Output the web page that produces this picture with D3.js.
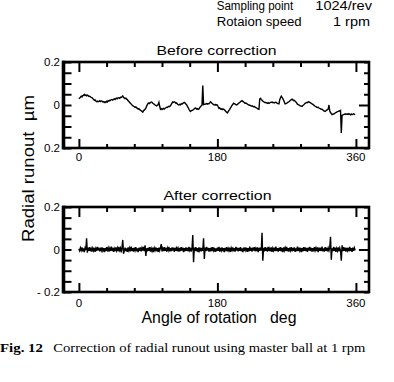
<!DOCTYPE html>
<html><head><meta charset="utf-8">
<script src="https://cdn.jsdelivr.net/npm/d3@7"></script>
<style>body{margin:0;background:#fff}svg{display:block}text{white-space:pre}</style>
</head><body>
<script>
// Radial runout (µm) sampled every 1 degree, 0..359
const beforeValues = [
 .029,.033,.036,.041,.038,.044,.045,.049,.044,.047,
 .043,.046,.044,.040,.041,.038,.035,.034,.030,.027,
 .022,.024,.019,.016,.018,.015,.017,.020,.016,.019,
 .018,.014,.016,.012,.015,.012,.017,.014,.020,.018,
 .022,.021,.025,.025,.023,.027,.029,.026,.030,.032,
 .029,.033,.034,.031,.036,.035,.038,.042,.036,.033,
 .030,.032,.027,.025,.020,.016,.012,.008,.004,.000,
 -.003,-.006,-.008,-.011,-.009,-.014,-.015,-.019,-.017,-.022,
 -.024,-.027,-.030,-.033,-.026,-.024,-.020,-.015,-.005,.002,
 .008,.010,.007,.012,.014,.012,.008,.006,.003,.000,
 -.002,-.004,-.001,.002,.012,-.006,-.020,-.017,-.021,-.018,
 -.016,-.019,-.015,-.013,-.010,-.011,-.008,-.006,-.007,-.004,
 .003,.009,.014,.012,.015,.013,.008,.010,.005,.002,
 .000,.003,.001,.006,.004,.008,.010,.012,.009,.004,
 .001,-.006,-.012,-.020,-.026,-.030,-.027,-.025,-.024,-.021,
 -.018,-.014,-.015,-.019,-.017,-.020,-.018,-.012,-.008,-.004,
 .000,.090,.002,.004,.003,.005,.007,.004,.006,.006,
 .010,.015,.012,.008,.005,.002,.000,.003,-.001,.001,
 .000,-.008,-.015,-.013,-.018,-.020,-.017,-.021,-.019,-.022,
 -.026,-.030,-.034,-.037,-.031,-.025,-.020,-.013,-.008,-.002,
 .003,.008,.006,.004,.002,.000,.003,.006,.009,.012,
 .015,.018,.020,.017,.014,.011,.008,.009,.007,.004,
 .002,.000,-.001,-.003,-.005,-.004,-.006,-.008,-.007,-.010,
 -.012,-.014,-.017,-.019,-.020,.028,.031,.026,.022,.018,
 .015,.013,.011,.012,.010,.008,.011,.008,.010,.012,
 .012,.014,.011,.012,.010,.012,.013,.010,.008,.006,
 .005,.025,.034,.041,.036,.030,.022,.014,.005,.006,
 .008,.011,.013,.015,.019,.022,.025,.027,.024,.020,
 .022,.018,.014,.010,.004,.002,.000,-.003,-.004,-.006,
 -.006,-.002,.000,.004,.008,.010,.012,.011,.014,.015,
 .012,.010,.008,.005,.003,.000,-.003,-.006,-.008,-.010,
 -.012,-.011,-.014,-.016,-.018,-.020,-.020,-.023,-.026,-.028,
 -.030,-.027,-.024,-.022,-.018,.000,-.028,-.035,-.040,-.045,
 -.043,-.042,-.040,-.037,-.035,-.033,-.031,-.030,-.028,-.027,
 -.025,-.130,-.048,-.046,-.045,-.042,-.044,-.041,-.043,-.042,
 -.044,-.040,-.043,-.046,-.042,-.045,-.043,-.041,-.044,-.042
];
const afterValues = [
 .003,-.006,.008,-.004,.010,-.009,.005,-.012,.007,-.003,
 .053,-.015,.009,-.006,.011,-.008,.004,-.010,.006,-.005,
 .008,-.011,.005,-.007,.012,-.004,.009,-.009,.003,-.006,
 .010,-.005,.007,-.012,.006,-.008,.011,-.003,.008,-.010,
 .005,-.007,.013,-.006,.009,-.011,.004,-.008,.010,-.005,
 .007,-.009,.012,-.004,.006,-.013,.008,.045,-.020,-.006,
 .009,-.008,.005,-.011,.010,-.005,.007,-.009,.014,-.007,
 .006,-.010,.009,-.004,.011,-.008,.005,-.012,.008,-.006,
 .010,-.009,.007,-.005,.012,-.008,.020,-.030,.006,-.009,
 .008,-.006,.011,-.010,.005,-.007,.009,-.012,.007,-.004,
 .010,-.008,.006,-.011,.009,-.005,.008,.025,-.009,.005,
 -.007,.011,-.006,.008,-.010,.007,-.004,.012,-.009,.006,
 -.008,.010,-.005,.009,-.011,.007,-.006,.013,-.008,.005,
 -.010,.008,-.007,.011,-.005,.009,-.012,.006,-.008,.010,
 -.006,.007,-.009,.012,-.004,.008,-.010,.005,.068,-.060,
 .009,-.007,.011,-.008,.006,-.012,.010,-.005,.008,-.009,
 .007,-.006,.053,-.045,.009,-.008,.012,-.005,.007,-.010,
 .006,-.009,.010,-.007,.011,-.004,.008,-.011,.005,-.008,
 .009,-.006,.012,-.010,.007,-.005,.010,-.008,.006,-.012,
 .008,-.007,.011,-.009,.005,-.006,.009,-.011,.007,-.004,
 .010,-.008,.006,-.010,.012,-.005,.008,-.009,.007,-.006,
 .011,-.008,.005,-.012,.009,-.007,.010,-.004,.008,-.011,
 .006,-.009,.013,-.006,.007,-.010,.009,-.005,.011,-.008,
 .005,-.007,.010,-.012,.008,-.006,.009,-.005,.079,-.053,
 .007,-.009,.011,-.006,.008,-.010,.012,-.007,.005,-.008,
 .010,-.011,.006,-.005,.009,-.008,.014,-.007,.006,-.010,
 .008,-.006,.011,-.009,.007,-.012,.010,-.005,.008,-.007,
 .012,-.008,.006,-.010,.009,-.004,.011,-.009,.007,-.006,
 .010,-.011,.005,-.008,.013,-.007,.009,-.005,.008,-.012,
 .006,-.009,.011,-.006,.010,-.008,.007,-.011,.009,-.005,
 .012,-.007,.008,-.010,.006,-.009,.011,-.005,.007,-.008,
 .010,-.012,.009,-.006,.008,-.007,.013,-.009,.005,-.010,
 .011,-.006,.008,-.009,.007,-.005,.010,.060,-.048,.006,
 -.008,.012,-.007,.009,-.011,.005,-.006,.010,-.009,.007,
 -.005,-.053,.020,-.008,.011,-.006,.009,-.010,.007,-.005,
 .008,-.009,.012,-.007,.006,-.011,.009,-.006,.008,-.004
];
const angles = d3.range(0, beforeValues.length); // degrees, 1 deg sampling
const xMajorTicks = [0, 180, 360];
const xMinorTicks = [36, 72, 108, 144, 216, 252, 288, 324];
const xTickLabels = ["0", "180", "360"];
const yTicks = [-0.2, -0.15, -0.1, -0.05, 0, 0.05, 0.1, 0.15, 0.2];
const yLabelValues = [0.2, 0, -0.2];
const beforeYLabels = ["0.2", "0", "0.2"];
const afterYLabels = ["0.2", "0", "- 0.2"];
const panelTitles = ["Before correction", "After correction"];

const W = 394, H = 382;
const svg = d3.select("body").append("svg").attr("width", W).attr("height", H);
const SANS = "'Liberation Sans', Arial, sans-serif";
const SERIF = "'Liberation Serif', 'Times New Roman', serif";

const left = 63.5, right = 369;
const x = d3.scaleLinear().domain([-20, 377]).range([left, right]);

const panels = [
  {values: beforeValues, title: panelTitles[0], top: 62, bottom: 148, titleY: 55, titleX: 216.5, titleLen: 120, yl: beforeYLabels, xlY: 160.5, lw: 1.4},
  {values: afterValues, title: panelTitles[1], top: 207, bottom: 292, titleY: 200, titleX: 217.5, titleLen: 108, yl: afterYLabels, xlY: 306.5, lw: 1.4}
];

panels.forEach(p => {
  const y = d3.scaleLinear().domain([-0.2, 0.2]).range([p.bottom, p.top]);
  const g = svg.append("g");

  // data line
  const line = d3.line().x((d, i) => x(angles[i])).y(d => y(d));
  g.append("path").datum(p.values).attr("d", line)
    .attr("fill", "none").attr("stroke", "#000").attr("stroke-width", p.lw);

  // ticks via axes (inward)
  const tickStyle = sel => { sel.select(".domain").remove(); sel.selectAll("line").attr("stroke", "#000").attr("stroke-width", 2); sel.selectAll("text").remove(); };
  g.append("g").attr("transform", `translate(${left},0)`)
    .call(d3.axisLeft(y).tickValues(yTicks).tickSize(-8).tickFormat("")).call(tickStyle);
  g.append("g").attr("transform", `translate(${right},0)`)
    .call(d3.axisRight(y).tickValues(yTicks.filter(v => v !== 0)).tickSize(-5).tickFormat("")).call(tickStyle);
  g.append("g").attr("transform", `translate(${right},0)`)
    .call(d3.axisRight(y).tickValues([0]).tickSize(-10).tickFormat("")).call(tickStyle);
  g.append("g").attr("transform", `translate(0,${p.top})`)
    .call(d3.axisTop(x).tickValues(xMajorTicks).tickSize(-10).tickFormat("")).call(tickStyle);
  g.append("g").attr("transform", `translate(0,${p.top})`)
    .call(d3.axisTop(x).tickValues(xMinorTicks).tickSize(-5).tickFormat("")).call(tickStyle);
  g.append("g").attr("transform", `translate(0,${p.bottom})`)
    .call(d3.axisBottom(x).tickValues(xMajorTicks).tickSize(-9).tickFormat("")).call(tickStyle);
  g.append("g").attr("transform", `translate(0,${p.bottom})`)
    .call(d3.axisBottom(x).tickValues(xMinorTicks).tickSize(-4).tickFormat("")).call(tickStyle);

  // frame
  g.append("rect").attr("x", left).attr("y", p.top).attr("width", right - left).attr("height", p.bottom - p.top)
    .attr("fill", "none").attr("stroke", "#000").attr("stroke-width", 2.6);
  g.append("line").attr("x1", left).attr("x2", left).attr("y1", p.top - 1.3).attr("y2", p.bottom + 1.3)
    .attr("stroke", "#000").attr("stroke-width", 3.6);

  // y tick labels
  g.selectAll(".yl").data(yLabelValues).join("text")
    .attr("x", 60).attr("y", d => y(d)).attr("dy", "0.36em")
    .attr("text-anchor", "end").attr("font-family", SANS).attr("font-size", 11.5)
    .text((d, i) => p.yl[i]);

  // x tick labels
  g.selectAll(".xl").data(xMajorTicks).join("text")
    .attr("x", d => x(d)).attr("y", p.xlY)
    .attr("text-anchor", "middle").attr("font-family", SANS).attr("font-size", 11.5)
    .text((d, i) => xTickLabels[i]);

  // title
  g.append("text").attr("x", p.titleX).attr("y", p.titleY).attr("text-anchor", "middle")
    .attr("font-family", SANS).attr("font-size", 13.5)
    .attr("textLength", p.titleLen).attr("lengthAdjust", "spacingAndGlyphs").text(p.title);
});

// axis titles
svg.append("text").attr("transform", "translate(33.5,168.5) rotate(-90)").attr("text-anchor", "middle")
  .attr("font-family", SANS).attr("font-size", 17)
  .attr("textLength", 147).attr("lengthAdjust", "spacingAndGlyphs").text("Radial runout  µm");
svg.append("text").attr("x", 219).attr("y", 323).attr("text-anchor", "middle")
  .attr("font-family", SANS).attr("font-size", 16)
  .attr("textLength", 155).attr("lengthAdjust", "spacingAndGlyphs").text("Angle of rotation   deg");

// header notes
const note = (t, xx, yy, anchor, len) => svg.append("text").attr("x", xx).attr("y", yy).attr("text-anchor", anchor)
  .attr("font-family", SANS).attr("font-size", 12)
  .attr("textLength", len).attr("lengthAdjust", "spacingAndGlyphs").text(t);
note("Sampling point", 216.7, 10, "start", 76.6);
note("1024/rev", 372, 10, "end", 56.7);
note("Rotaion speed", 216.7, 25.5, "start", 85);
note("1 rpm", 370, 25.5, "end", 37);

// caption
svg.append("text").attr("x", 0).attr("y", 352).attr("font-family", SERIF).attr("font-weight", "bold")
  .attr("font-size", 13).attr("textLength", 43).attr("lengthAdjust", "spacingAndGlyphs").text("Fig. 12");
svg.append("text").attr("x", 53.3).attr("y", 352).attr("font-family", SERIF)
  .attr("font-size", 12.5).attr("textLength", 312).attr("lengthAdjust", "spacingAndGlyphs")
  .text("Correction of radial runout using master ball at 1 rpm");
</script>
</body></html>
